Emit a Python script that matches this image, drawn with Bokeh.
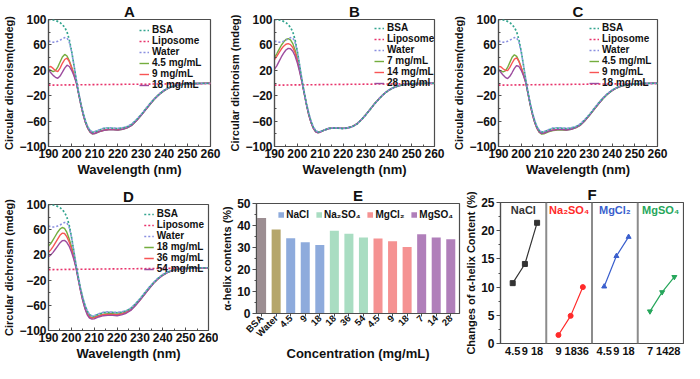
from math import pi
from bokeh.plotting import figure
from bokeh.models import ColumnDataSource, FixedTicker, Legend, LegendItem, Span, Range1d
from bokeh.layouts import row, column
from bokeh.embed import file_html
from bokeh.resources import INLINE
from bokeh.core.properties import value

# ---------------- data: CD spectra (panels A-D) ----------------
WAVELENGTH = [190, 191, 192, 193, 194, 195, 196, 197, 198, 199, 200,
              201, 202, 203, 204, 205, 206, 207, 208, 209, 210,
              212, 214, 216, 218, 220, 222, 224, 226, 228, 230, 232, 234, 236,
              238, 240, 242, 244, 246, 248, 250, 252, 254, 256, 258, 260]

BSA = [100.0, 99.8, 99.3, 98.4, 97.0, 95.0, 92.0, 87.5, 80.5, 68.0, 50.0,
       28.0, 5.0, -15.0, -33.0, -48.0, -60.5, -69.5, -75.0, -77.5, -77.0,
       -74.0, -71.5, -71.0, -71.3, -71.8, -70.8, -69.0, -65.0, -58.0, -50.0, -41.0, -32.0, -24.0,
       -17.0, -11.5, -7.5, -4.8, -3.0, -2.0, -1.4, -1.0, -0.8, -0.6, -0.5, -0.5]
LIPOSOME = [-3.4, -3.3, -3.3, -3.2, -3.3, -3.1, -3.2, -3.0, -3.1, -3.0, -2.9,
            -3.0, -2.8, -2.9, -2.7, -2.8, -2.7, -2.6, -2.7, -2.5, -2.6,
            -2.4, -2.5, -2.3, -2.2, -2.3, -2.1, -2.0, -2.1, -1.9, -1.8, -1.9, -1.7, -1.6,
            -1.7, -1.5, -1.4, -1.5, -1.3, -1.3, -1.2, -1.2, -1.1, -1.1, -1.0, -1.0]
WATER = [66.0, 65.0, 64.2, 64.5, 65.8, 67.5, 69.5, 71.5, 71.0, 64.0, 49.0,
         28.0, 5.5, -14.5, -32.5, -47.5, -60.0, -69.0, -74.5, -77.0, -76.5,
         -73.5, -71.0, -70.5, -70.8, -71.3, -70.5, -68.5, -64.5, -57.5, -49.5, -40.5, -31.5, -23.5,
         -16.5, -11.0, -7.2, -4.6, -2.9, -1.9, -1.3, -0.9, -0.7, -0.6, -0.5, -0.4]

# A: NaCl 4.5 / 9 / 18 mg/mL
A_NACL_4_5 = [22.0, 20.0, 18.0, 19.5, 25.0, 33.0, 41.0, 45.0, 42.5, 35.0, 25.0,
              14.0, 2.0, -16.5, -34.5, -50.0, -62.5, -71.5, -77.5, -80.0, -79.5,
              -76.5, -74.5, -73.5, -73.5, -74.0, -72.8, -70.5, -66.5, -59.5, -51.0, -42.0, -33.0, -24.5,
              -17.5, -12.0, -7.8, -5.0, -3.1, -2.0, -1.4, -1.0, -0.8, -0.6, -0.5, -0.5]
A_NACL_9 = [25.0, 26.0, 23.0, 19.5, 18.0, 23.5, 31.0, 37.0, 39.0, 33.5, 24.0,
            13.5, 1.5, -16.5, -34.0, -49.5, -62.0, -71.0, -77.0, -79.5, -79.0,
            -76.0, -74.0, -73.0, -73.0, -73.5, -72.5, -70.0, -66.0, -59.0, -50.5, -41.5, -32.5, -24.0,
            -17.0, -11.7, -7.6, -4.9, -3.0, -2.0, -1.4, -1.0, -0.8, -0.6, -0.5, -0.5]
A_NACL_18 = [20.0, 16.0, 12.0, 9.0, 7.5, 11.0, 17.0, 23.5, 28.0, 26.0, 20.0,
             11.5, 0.5, -17.0, -34.5, -50.0, -62.5, -71.5, -77.5, -80.0, -79.5,
             -76.5, -74.5, -73.8, -73.8, -74.2, -73.0, -70.6, -66.6, -59.6, -51.2, -42.2, -33.2, -24.6,
             -17.6, -12.1, -7.9, -5.1, -3.2, -2.1, -1.5, -1.1, -0.8, -0.7, -0.6, -0.5]

# B: MgSO4 7 / 14 / 28 mg/mL
B_MGSO4_7 = [40.0, 46.0, 53.0, 59.5, 64.5, 68.5, 70.0, 68.0, 62.0, 52.0, 38.0,
             21.0, 3.0, -16.0, -34.0, -50.0, -62.0, -71.0, -76.5, -78.0, -77.0,
             -73.5, -71.2, -70.6, -70.8, -71.3, -70.4, -68.3, -64.3, -57.5, -49.5, -40.5, -31.5, -23.5,
             -16.6, -11.2, -7.3, -4.7, -2.9, -1.9, -1.3, -0.9, -0.7, -0.6, -0.5, -0.4]
B_MGSO4_14 = [37.0, 42.0, 48.0, 53.5, 58.0, 61.0, 62.0, 60.5, 56.0, 47.5, 35.5,
              20.0, 2.5, -16.3, -34.2, -50.2, -62.2, -71.2, -76.7, -78.2, -77.2,
              -73.7, -71.4, -70.8, -71.0, -71.5, -70.6, -68.5, -64.5, -57.7, -49.7, -40.7, -31.7, -23.7,
              -16.7, -11.3, -7.4, -4.7, -2.9, -1.9, -1.3, -0.9, -0.7, -0.6, -0.5, -0.4]
B_MGSO4_28 = [22.0, 27.0, 34.0, 41.0, 47.0, 52.0, 54.5, 54.0, 50.0, 42.5, 31.5,
              17.5, 1.5, -16.8, -34.6, -50.5, -62.5, -71.5, -77.0, -78.5, -77.5,
              -74.0, -71.6, -71.0, -71.2, -71.7, -70.8, -68.7, -64.7, -57.9, -49.9, -40.9, -31.9, -23.9,
              -16.9, -11.4, -7.5, -4.8, -3.0, -2.0, -1.4, -1.0, -0.8, -0.6, -0.5, -0.5]

# C: MgCl2 4.5 / 9 / 18 mg/mL
C_MGCL2_4_5 = [21.0, 19.0, 17.5, 19.0, 24.5, 32.5, 40.5, 44.5, 42.0, 34.5, 24.5,
               13.5, 1.5, -17.0, -35.0, -50.5, -63.0, -72.0, -78.0, -80.5, -80.0,
               -77.0, -75.0, -74.0, -74.0, -74.3, -73.0, -70.7, -66.7, -59.7, -51.2, -42.2, -33.2, -24.7,
               -17.6, -12.1, -7.9, -5.0, -3.1, -2.0, -1.4, -1.0, -0.8, -0.6, -0.5, -0.5]
C_MGCL2_9 = [26.0, 25.5, 22.5, 20.0, 19.5, 24.5, 31.5, 37.5, 39.5, 34.0, 24.5,
             13.5, 1.5, -16.5, -34.5, -50.0, -62.5, -71.5, -77.0, -79.0, -78.5,
             -75.5, -73.8, -73.0, -73.0, -73.5, -72.3, -70.0, -66.0, -59.0, -50.6, -41.6, -32.6, -24.1,
             -17.1, -11.8, -7.7, -4.9, -3.0, -2.0, -1.4, -1.0, -0.8, -0.6, -0.5, -0.5]
C_MGCL2_18 = [21.0, 17.0, 12.5, 9.0, 7.0, 10.5, 16.5, 23.0, 27.5, 26.0, 20.0,
              11.5, 0.5, -17.0, -34.5, -50.0, -62.5, -71.5, -77.5, -79.5, -79.0,
              -76.0, -74.2, -73.5, -73.5, -74.0, -72.8, -70.4, -66.4, -59.4, -51.0, -42.0, -33.0, -24.5,
              -17.4, -12.0, -7.8, -5.0, -3.1, -2.0, -1.4, -1.0, -0.8, -0.6, -0.5, -0.5]

# D: Na2SO4 18 / 36 / 54 mg/mL
D_NA2SO4_18 = [34.0, 38.0, 44.0, 50.0, 56.0, 61.0, 63.5, 62.0, 56.0, 46.0, 34.0,
               19.0, 2.0, -17.0, -35.0, -51.0, -64.0, -73.0, -78.0, -79.5, -79.0,
               -76.0, -74.0, -73.5, -73.5, -74.0, -72.8, -70.5, -66.5, -59.5, -51.0, -42.0, -33.0, -24.5,
               -17.5, -12.0, -7.8, -5.0, -3.1, -2.0, -1.4, -1.0, -0.8, -0.6, -0.5, -0.5]
D_NA2SO4_36 = [24.0, 28.0, 33.0, 39.0, 45.0, 51.0, 54.5, 54.0, 49.0, 41.0, 30.0,
               17.0, 1.0, -18.0, -36.0, -52.0, -65.0, -74.0, -79.0, -80.5, -80.0,
               -77.0, -75.0, -74.5, -74.5, -75.0, -73.8, -71.3, -67.2, -60.0, -51.5, -42.4, -33.3, -24.8,
               -17.7, -12.2, -7.9, -5.1, -3.2, -2.1, -1.5, -1.1, -0.8, -0.7, -0.6, -0.5]
D_NA2SO4_54 = [17.0, 20.0, 24.0, 29.0, 34.0, 39.0, 42.5, 43.0, 40.0, 34.0, 25.0,
               14.0, 0.0, -19.0, -37.0, -53.0, -66.0, -75.5, -80.5, -82.0, -81.5,
               -78.5, -76.5, -76.0, -76.0, -76.5, -75.2, -72.6, -68.2, -60.8, -52.2, -43.0, -33.8, -25.2,
               -18.0, -12.4, -8.1, -5.2, -3.3, -2.2, -1.5, -1.1, -0.9, -0.7, -0.6, -0.5]

X_TICKS = [190, 200, 210, 220, 230, 240, 250, 260]
X_MINOR = [195, 205, 215, 225, 235, 245, 255]
Y_TICKS = [-100, -60, -20, 20, 60, 100]
Y_MINOR = [-80, -40, 0, 40, 80]

# ---------------- data: panel E (alpha-helix contents) ----------------
E_LABELS = ["BSA", "Water", "4.5", "9", "18", "18", "36", "54", "4.5", "9", "18", "7", "14", "28"]
E_GROUPS = ["BSA", "Water", "NaCl", "NaCl", "NaCl", "Na2SO4", "Na2SO4", "Na2SO4",
            "MgCl2", "MgCl2", "MgCl2", "MgSO4", "MgSO4", "MgSO4"]
E_VALUES = [43.4, 38.2, 34.2, 32.4, 31.1, 37.6, 36.3, 34.5, 34.1, 32.8, 30.2, 36.0, 34.6, 33.7]

# ---------------- data: panel F (changes of alpha-helix content) ----------------
F_GROUPS = ["NaCl", "Na\u2082SO\u2084", "MgCl\u2082", "MgSO\u2084"]
F_NACL_CONC = ["4.5", "9", "18"]
F_NACL = [10.7, 14.1, 21.4]
F_NA2SO4_CONC = ["9", "18", "36"]
F_NA2SO4 = [1.5, 4.9, 10.0]
F_MGCL2_CONC = ["4.5", "9", "18"]
F_MGCL2 = [10.1, 15.5, 18.9]
F_MGSO4_CONC = ["7", "14", "28"]
F_MGSO4 = [5.7, 9.1, 11.8]

# ---------------- styles ----------------
FONT = "Liberation Sans"
AX = "#4d4d4d"
TXT = "#111111"
BSA_COLOR = "#34a590"
LIPO_COLOR = "#e8336b"
WATER_COLOR = "#8a8fe0"
SALT_COLORS = ["#74ad3e", "#f85555", "#9c4c9e"]


def make_fig(letter, width, height, border, x_range, y_range):
    bl, br, bt, bb = border
    p = figure(width=width, height=height, title=letter, x_range=x_range, y_range=y_range,
               output_backend="svg", toolbar_location=None,
               min_border_left=bl, min_border_right=br, min_border_top=bt, min_border_bottom=bb)
    p.title.align = "center"
    p.title.text_font = FONT
    p.title.text_font_style = "bold"
    p.title.text_font_size = "15px"
    p.title.text_color = TXT
    p.title.standoff = 0
    p.title.offset = 0
    p.xgrid.visible = False
    p.ygrid.visible = False
    p.outline_line_color = AX
    p.outline_line_width = 1.2
    p.background_fill_color = "white"
    p.border_fill_color = "white"
    for ax in (p.xaxis[0], p.yaxis[0]):
        ax.axis_line_color = AX
        ax.axis_line_width = 1.2
        ax.major_tick_line_color = AX
        ax.minor_tick_line_color = AX
        ax.major_label_text_font = FONT
        ax.major_label_text_font_style = "bold"
        ax.major_label_text_font_size = "12px"
        ax.major_label_text_color = TXT
        ax.major_label_standoff = 2
        ax.axis_label_text_font = FONT
        ax.axis_label_text_font_style = "bold"
        ax.axis_label_text_color = TXT
        ax.axis_label_standoff = 1
    p.yaxis.axis_label_text_font_size = "11px"
    p.xaxis.axis_label_text_font_size = "13px"
    return p


def cd_panel(letter, ylabel, series, labels, width, height, border, legend_loc, legend_margin=0):
    p = make_fig(letter, width, height, border, Range1d(190, 260), Range1d(-100, 100))
    src = ColumnDataSource(dict(wl=WAVELENGTH, bsa=BSA, lipo=LIPOSOME, water=WATER,
                                s0=series[0], s1=series[1], s2=series[2]))
    salt_r = [p.line("wl", k, source=src, line_color=c, line_width=1.4)
              for k, c in zip(("s0", "s1", "s2"), SALT_COLORS)]
    r_lipo = p.line("wl", "lipo", source=src, line_color=LIPO_COLOR, line_width=1.6, line_dash="2 2")
    r_water = p.line("wl", "water", source=src, line_color=WATER_COLOR, line_width=1.6, line_dash="2 2")
    r_bsa = p.line("wl", "bsa", source=src, line_color=BSA_COLOR, line_width=1.7, line_dash="2 2")
    items = [LegendItem(label="BSA", renderers=[r_bsa]),
             LegendItem(label="Liposome", renderers=[r_lipo]),
             LegendItem(label="Water", renderers=[r_water])]
    items += [LegendItem(label=l, renderers=[r]) for l, r in zip(labels, salt_r)]
    leg = Legend(items=items, location=legend_loc, orientation="vertical",
                 label_text_font=FONT, label_text_font_style="bold", label_text_font_size="10px",
                 label_text_color=TXT, label_height=8, glyph_height=8, glyph_width=10,
                 label_standoff=3, spacing=0, padding=0, margin=legend_margin,
                 border_line_alpha=0, background_fill_alpha=0)
    p.add_layout(leg)
    p.xaxis.ticker = FixedTicker(ticks=X_TICKS, minor_ticks=X_MINOR)
    p.yaxis.ticker = FixedTicker(ticks=Y_TICKS, minor_ticks=Y_MINOR)
    for ax in (p.xaxis[0], p.yaxis[0]):
        ax.major_tick_in = 3
        ax.major_tick_out = 0
        ax.minor_tick_in = 2
        ax.minor_tick_out = 0
    p.xaxis.axis_label = "Wavelength (nm)"
    p.yaxis.axis_label = ylabel
    return p


pA = cd_panel("A", "Circular dichroism(mdeg)", [A_NACL_4_5, A_NACL_9, A_NACL_18],
              ["4.5 mg/mL", "9 mg/mL", "18 mg/mL"], 226, 183, (42, 16, 18, 37), (91, 56))
pB = cd_panel("B", "Circular dichroism (mdeg)", [B_MGSO4_7, B_MGSO4_14, B_MGSO4_28],
              ["7 mg/mL", "14 mg/mL", "28 mg/ml"], 224, 183, (42, 16, 18, 37), (100, 58))
pC = cd_panel("C", "Circular dichroism(mdeg)", [C_MGCL2_4_5, C_MGCL2_9, C_MGCL2_18],
              ["4.5 mg/mL", "9 mg/mL", "18 mg/mL"], 234, 183, (42, 27, 18, 37), (91, 58))
pD = cd_panel("D", "Circular dichroism (mdeg)", [D_NA2SO4_18, D_NA2SO4_36, D_NA2SO4_54],
              ["18 mg/mL", "36 mg/mL", "54 mg/mL"], 218, 180, (45, 10, 21, 33), "top_right", 4)

# ---------------- panel E ----------------
E_COLORS = {"BSA": "#9c8e92", "Water": "#b5a66b", "NaCl": "#8eabdc",
            "Na2SO4": "#a9ddc2", "MgCl2": "#f59292", "MgSO4": "#b07fba"}
E_LEGEND = {"NaCl": "NaCl", "Na2SO4": "Na\u2082SO\u2084", "MgCl2": "MgCl\u2082", "MgSO4": "MgSO\u2084"}
pE = make_fig("E", 244, 180, (32, 3, 20, 46), Range1d(-0.35, 13.6), Range1d(0, 50))
e_r = {}
for g in ["BSA", "Water", "NaCl", "Na2SO4", "MgCl2", "MgSO4"]:
    xs = [i for i, gg in enumerate(E_GROUPS) if gg == g]
    tops = [E_VALUES[i] for i in xs]
    e_r[g] = pE.vbar(x=xs, top=tops, bottom=0, width=0.62, fill_color=E_COLORS[g], line_color=None)
e_leg = Legend(items=[LegendItem(label=E_LEGEND[g], renderers=[e_r[g]]) for g in ["NaCl", "Na2SO4", "MgCl2", "MgSO4"]],
               location="top_right", orientation="horizontal",
               label_text_font=FONT, label_text_font_style="bold", label_text_font_size="10px",
               label_text_color=TXT, label_height=8, glyph_height=7, glyph_width=7,
               label_standoff=2, spacing=6, padding=0, margin=6,
               border_line_alpha=0, background_fill_alpha=0)
pE.add_layout(e_leg)
pE.xaxis.ticker = FixedTicker(ticks=list(range(len(E_LABELS))))
pE.xaxis.major_label_overrides = {i: lab for i, lab in enumerate(E_LABELS)}
pE.xaxis.major_label_orientation = pi / 4
pE.xaxis.major_label_text_font_size = "9.5px"
pE.xaxis.major_label_standoff = 0
pE.xaxis.major_tick_in = 0
pE.xaxis.major_tick_out = 3
pE.xaxis.minor_tick_out = 0
pE.xaxis.axis_label = "Concentration (mg/mL)"
pE.xaxis.axis_label_standoff = 0
pE.yaxis.ticker = FixedTicker(ticks=[0, 10, 20, 30, 40, 50], minor_ticks=[5, 15, 25, 35, 45])
pE.yaxis.major_tick_in = 0
pE.yaxis.major_tick_out = 4
pE.yaxis.minor_tick_in = 0
pE.yaxis.minor_tick_out = 2
pE.yaxis.axis_label = "\u03b1-helix contents (%)"

# ---------------- panel F ----------------
F_COLORS = ["#333333", "#ff2a2a", "#3a5fcd", "#26a65b"]
F_MARKERS = ["square", "circle", "triangle", "inverted_triangle"]
F_SERIES = [(F_NACL_CONC, F_NACL), (F_NA2SO4_CONC, F_NA2SO4), (F_MGCL2_CONC, F_MGCL2), (F_MGSO4_CONC, F_MGSO4)]
SEG = 30
OFFS = [8, 16, 24]
pF = make_fig("F", 222, 180, (32, 1, 17, 20), Range1d(0, SEG * 4), Range1d(0, 25))
f_ticks, f_over = [], {}
for gi, ((concs, vals), col, mk) in enumerate(zip(F_SERIES, F_COLORS, F_MARKERS)):
    xs = [gi * SEG + o for o in OFFS[:len(vals)]]
    pF.line(xs, vals, line_color=col, line_width=1.2)
    pF.scatter(xs, vals, marker=mk, size=5, fill_color=col, line_color=col)
    for x, c in zip(xs, concs):
        f_ticks.append(x)
        f_over[x] = c
for k in range(1, 4):
    pF.add_layout(Span(location=k * SEG, dimension="height", line_color="#8c8c8c", line_width=2))
pF.text(x=[gi * SEG + SEG / 2 for gi in range(4)], y=[23.6] * 4, text=F_GROUPS,
        text_color=F_COLORS, text_font=value(FONT), text_font_style="bold",
        text_font_size="11px", text_align="center", text_baseline="middle")
pF.xaxis.ticker = FixedTicker(ticks=f_ticks)
pF.xaxis.major_label_overrides = f_over
pF.xaxis.major_label_text_font_size = "11px"
pF.xaxis.major_tick_in = 0
pF.xaxis.major_tick_out = 0
pF.xaxis.minor_tick_out = 0
pF.xaxis.major_label_standoff = 3
pF.yaxis.ticker = FixedTicker(ticks=[0, 5, 10, 15, 20, 25], minor_ticks=[2.5, 7.5, 12.5, 17.5, 22.5])
pF.yaxis.major_tick_in = 0
pF.yaxis.major_tick_out = 4
pF.yaxis.minor_tick_in = 0
pF.yaxis.minor_tick_out = 2
pF.yaxis.axis_label = "Changes of \u03b1-helix Content (%)"

# each figure wrapped in its own column so that row() does not align the plot frames
layout = column(row(pA, pB, pC), row(column(pD), column(pE), column(pF)))
open("out.html", "w").write(file_html(layout, INLINE))
